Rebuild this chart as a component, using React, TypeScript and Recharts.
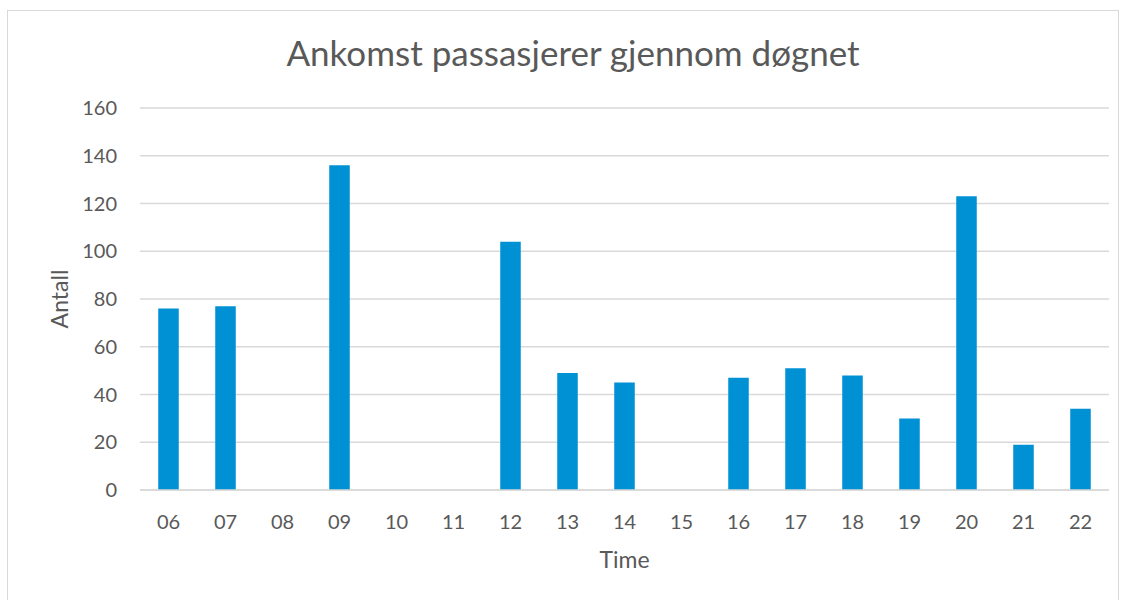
import { BarChart, Bar, XAxis, YAxis, CartesianGrid } from "recharts";

const hours = ["06", "07", "08", "09", "10", "11", "12", "13", "14", "15", "16", "17", "18", "19", "20", "21", "22"];
const arrivals = [76, 77, 0, 136, 0, 0, 104, 49, 45, 0, 47, 51, 48, 30, 123, 19, 34];
const yTicks = [0, 20, 40, 60, 80, 100, 120, 140, 160];

const data = hours.map((h, i) => ({ hour: h, antall: arrivals[i] }));

const font = "Lato, 'Open Sans', sans-serif";
const grey = "#595959";

export default function App() {
  return (
    <div
      style={{
        position: "absolute",
        left: 0,
        top: 0,
        width: 1128,
        height: 600,
        background: "#fff",
        overflow: "hidden",
        fontFamily: font,
      }}
    >
      <div
        style={{
          position: "absolute",
          left: 7,
          top: 10,
          width: 1110,
          height: 600,
          border: "1px solid #d9d9d9",
        }}
      />
      <div
        style={{
          position: "absolute",
          left: 0,
          top: 31,
          width: 1146,
          textAlign: "center",
          fontSize: 35,
          color: grey,
        }}
      >
        Ankomst passasjerer gjennom døgnet
      </div>
      <div style={{ position: "absolute", left: 0, top: 0 }}>
        <BarChart
          width={1128}
          height={600}
          data={data}
          margin={{ top: 108, right: 19, left: 0, bottom: 60 }}
          barCategoryGap="68%"
        >
          <CartesianGrid vertical={false} stroke="#d9d9d9" strokeWidth={1.5} />
          <XAxis
            dataKey="hour"
            height={50}
            tickLine={false}
            axisLine={{ stroke: "#d9d9d9", strokeWidth: 1.5 }}
            tick={{ fill: grey, fontSize: 20, fontFamily: font }}
            tickMargin={19}
            label={{
              value: "Time",
              position: "insideBottom",
              offset: -28,
              fill: grey,
              fontSize: 23,
              fontFamily: font,
            }}
          />
          <YAxis
            width={140}
            domain={[0, 160]}
            ticks={yTicks}
            interval={0}
            tickLine={false}
            axisLine={false}
            tick={{ fill: grey, fontSize: 20, fontFamily: font }}
            tickMargin={17}
            label={{
              value: "Antall",
              angle: -90,
              position: "insideLeft",
              offset: 60,
              fill: grey,
              fontSize: 23,
              fontFamily: font,
              style: { textAnchor: "middle" },
            }}
          />
          <Bar dataKey="antall" fill="#0091d5" isAnimationActive={false} />
        </BarChart>
      </div>
    </div>
  );
}
